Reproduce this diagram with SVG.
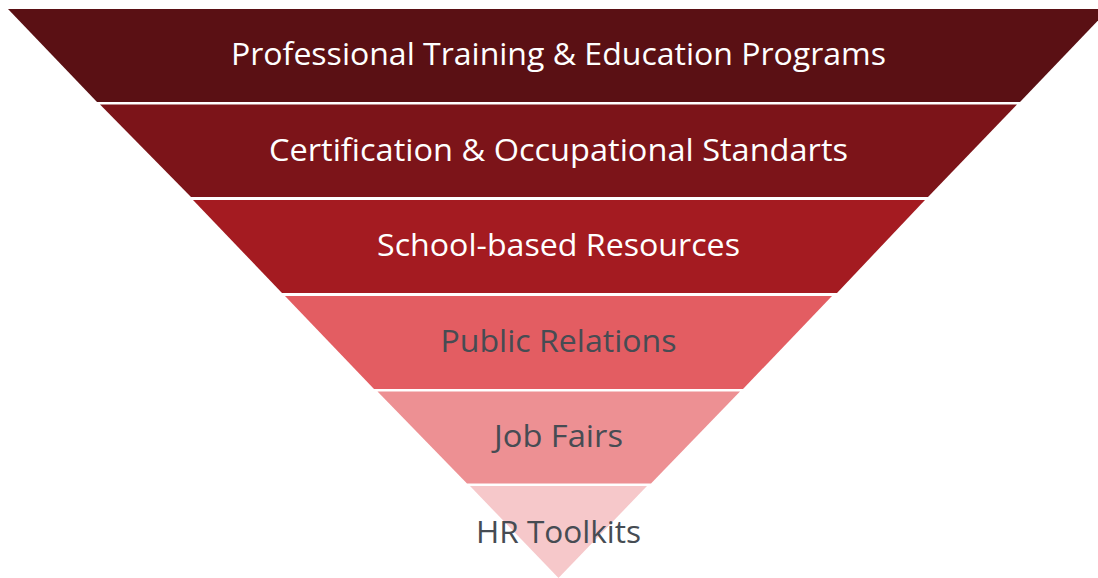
<svg xmlns="http://www.w3.org/2000/svg" width="1098" height="578" viewBox="0 0 1098 578">
  <style>
    .lbl { font-family: "Open Sans", "Liberation Sans", sans-serif; font-size: 31px; text-anchor: middle; }
    .light { fill: #ffffff; }
    .dark { fill: #464c53; }
  </style>
  <rect width="1098" height="578" fill="#ffffff"/>

  <!-- inverted pyramid, top tier first -->
  <g id="tier-training">
    <polygon points="8,9 1109,9 1020,102 97,102" fill="#5a1014"/>
    <text class="lbl light" x="558.5" y="65" textLength="655" lengthAdjust="spacingAndGlyphs">Professional Training &amp; Education Programs</text>
  </g>
  <g id="tier-certification">
    <polygon points="100,104.5 1017,104.5 928,197 191,197" fill="#7c1419"/>
    <text class="lbl light" x="558.5" y="160.5" textLength="579" lengthAdjust="spacingAndGlyphs">Certification &amp; Occupational Standarts</text>
  </g>
  <g id="tier-school">
    <polygon points="193,200 925,200 837,293 282,293" fill="#a41b21"/>
    <text class="lbl light" x="558.5" y="256" textLength="363" lengthAdjust="spacingAndGlyphs">School-based Resources</text>
  </g>
  <g id="tier-pr">
    <polygon points="285,296 832,296 743,389 374,389" fill="#e35d62"/>
    <text class="lbl dark" x="558.5" y="351.5" textLength="236" lengthAdjust="spacingAndGlyphs">Public Relations</text>
  </g>
  <g id="tier-jobfairs">
    <polygon points="377.5,391.5 740,391.5 651,483.5 467,483.5" fill="#ed9093"/>
    <text class="lbl dark" x="558.5" y="447" textLength="129" lengthAdjust="spacingAndGlyphs">Job Fairs</text>
  </g>
  <g id="tier-hr">
    <polygon points="470,486 647,486 558.5,578" fill="#f6c8ca"/>
    <text class="lbl dark" x="558.5" y="542.5" textLength="165" lengthAdjust="spacingAndGlyphs">HR Toolkits</text>
  </g>

  <!-- no connectors in this figure -->
  <g id="connectors"/>
</svg>
